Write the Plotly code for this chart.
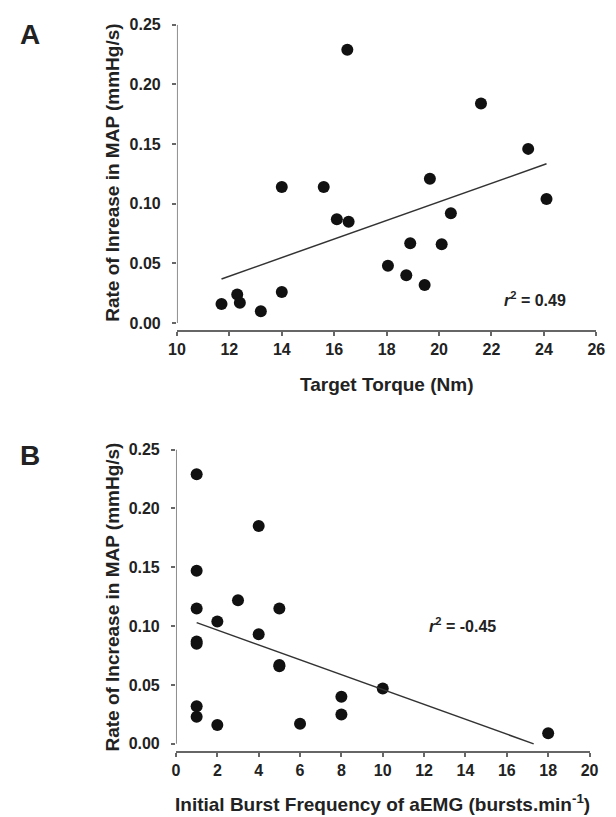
import plotly.graph_objects as go

# ---- Panel A data ----
torque_nm = [11.7, 12.3, 12.4, 13.2, 14.0, 14.0, 15.6, 16.1, 16.55, 16.5,
             18.05, 18.75, 18.9, 19.45, 19.65, 20.1, 20.45, 21.6, 23.4, 24.1]
map_rate_a = [0.016, 0.024, 0.017, 0.010, 0.026, 0.114, 0.114, 0.087, 0.085, 0.229,
              0.048, 0.040, 0.067, 0.032, 0.121, 0.066, 0.092, 0.184, 0.146, 0.104]
fit_a_x = [11.7, 24.1]
fit_a_y = [0.037, 0.1335]
x_ticks_a = [10, 12, 14, 16, 18, 20, 22, 24, 26]

# ---- Panel B data ----
burst_freq = [1, 4, 1, 1, 3, 5, 2, 4, 1, 1, 5, 5, 10, 8, 8, 1, 1, 2, 6, 18]
map_rate_b = [0.229, 0.185, 0.147, 0.115, 0.122, 0.115, 0.104, 0.093, 0.087, 0.085,
              0.067, 0.066, 0.047, 0.040, 0.025, 0.032, 0.023, 0.016, 0.017, 0.009]
fit_b_x = [1.0, 17.3]
fit_b_y = [0.103, 0.0]
x_ticks_b = [0, 2, 4, 6, 8, 10, 12, 14, 16, 18, 20]

y_ticks = [0.00, 0.05, 0.10, 0.15, 0.20, 0.25]

W, H = 616, 817
FONT = "Liberation Sans, Arial, sans-serif"
TXT = "#222222"
AXC = "#666666"

fig = go.Figure()
marker = dict(size=12, color="#111111")
fig.add_trace(go.Scatter(x=torque_nm, y=map_rate_a, mode="markers", marker=marker,
                         xaxis="x", yaxis="y", showlegend=False))
fig.add_trace(go.Scatter(x=fit_a_x, y=fit_a_y, mode="lines", line=dict(color="#333333", width=1.5),
                         xaxis="x", yaxis="y", showlegend=False))
fig.add_trace(go.Scatter(x=burst_freq, y=map_rate_b, mode="markers", marker=marker,
                         xaxis="x2", yaxis="y2", showlegend=False))
fig.add_trace(go.Scatter(x=fit_b_x, y=fit_b_y, mode="lines", line=dict(color="#333333", width=1.5),
                         xaxis="x2", yaxis="y2", showlegend=False))

tickfont = dict(family=FONT, size=16, color=TXT, weight="bold")
common_x = dict(showline=True, linecolor=AXC, linewidth=1.5, ticks="outside", ticklen=4,
                tickcolor=AXC, tickwidth=1.5, showgrid=False, zeroline=False, tickfont=tickfont)
common_y = dict(showline=False, ticks="outside", ticklen=4, tickcolor=AXC, tickwidth=1.5,
                showgrid=False, zeroline=False, tickfont=tickfont, tickvals=y_ticks,
                tickformat=".2f", ticklabelstandoff=8)

fig.update_layout(
    width=W, height=H, margin=dict(l=0, r=0, t=0, b=0),
    paper_bgcolor="white", plot_bgcolor="white",
    xaxis=dict(domain=[173 / W, 605 / W], anchor="y", range=[10, 26], tickvals=x_ticks_a, **common_x),
    yaxis=dict(domain=[1 - 326 / H, 1 - 17 / H], anchor="x", range=[-0.0058, 0.25], **common_y),
    xaxis2=dict(domain=[172 / W, 598 / W], anchor="y2", range=[0, 20], tickvals=x_ticks_b, **common_x),
    yaxis2=dict(domain=[1 - 752 / H, 1 - 447 / H], anchor="x2", range=[-0.0059, 0.25], **common_y),
)

# y axis lines (detached from x axis)
fig.add_shape(type="line", xref="x", yref="y", x0=10, x1=10, y0=0, y1=0.25,
              line=dict(color=AXC, width=1.5))
fig.add_shape(type="line", xref="x2", yref="y2", x0=0, x1=0, y0=0, y1=0.25,
              line=dict(color=AXC, width=1.5))

title_font = dict(family=FONT, size=19, color=TXT, weight="bold")
ann = []
ann.append(dict(text="A", x=22 / W, y=1 - 27 / H, xref="paper", yref="paper", showarrow=False,
                xanchor="center", yanchor="middle", font=dict(family=FONT, size=28, color=TXT, weight="bold")))
ann.append(dict(text="B", x=22 / W, y=1 - 453 / H, xref="paper", yref="paper", showarrow=False,
                xanchor="center", yanchor="middle", font=dict(family=FONT, size=28, color=TXT, weight="bold")))
ann.append(dict(text="Rate of Inrease in MAP (mmHg/s)", x=107 / W, y=1 - 167 / H, xref="paper", yref="paper",
                showarrow=False, textangle=-90, xanchor="center", yanchor="middle", font=title_font))
ann.append(dict(text="Rate of Increase in MAP (mmHg/s)", x=107 / W, y=1 - 596 / H, xref="paper", yref="paper",
                showarrow=False, textangle=-90, xanchor="center", yanchor="middle", font=title_font))
ann.append(dict(text="Target Torque (Nm)", x=389 / W, y=1 - 381 / H, xref="paper", yref="paper",
                showarrow=False, xanchor="center", yanchor="middle", font=title_font))
ann.append(dict(text="Initial Burst Frequency of aEMG (bursts.min<sup>-1</sup>)", x=385 / W, y=1 - 805 / H,
                xref="paper", yref="paper", showarrow=False, xanchor="center", yanchor="middle", font=title_font))
r_font = dict(family=FONT, size=16, color=TXT, weight="bold")
ann.append(dict(text="<i>r</i><sup>2</sup> = 0.49", x=23.67, y=0.020, xref="x", yref="y", showarrow=False,
                xanchor="center", yanchor="middle", font=r_font))
ann.append(dict(text="<i>r</i><sup>2</sup> = -0.45", x=13.88, y=0.1007, xref="x2", yref="y2", showarrow=False,
                xanchor="center", yanchor="middle", font=r_font))
fig.update_layout(annotations=ann)

fig.write_html("out.html")
